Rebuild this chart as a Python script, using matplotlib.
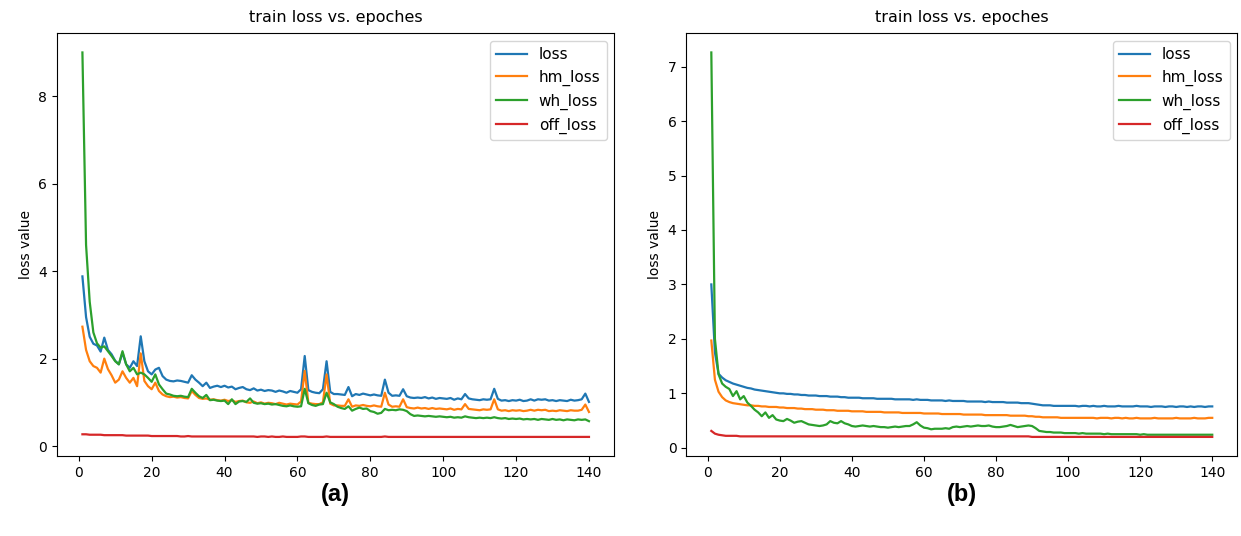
import numpy as np
import matplotlib
matplotlib.use("Agg")
import matplotlib.pyplot as plt

plt.rcParams['font.family'] = ['DejaVu Sans']

epochs = np.arange(1, 141)

# (a) first training run
loss_a = [3.88, 2.95, 2.50, 2.34, 2.30, 2.16, 2.48, 2.20, 2.10, 1.95,
          1.87, 2.13, 1.87, 1.79, 1.94, 1.83, 2.51, 1.94, 1.71, 1.64,
          1.75, 1.79, 1.60, 1.52, 1.49, 1.48, 1.50, 1.49, 1.47, 1.45,
          1.62, 1.52, 1.45, 1.37, 1.45, 1.33, 1.36, 1.38, 1.35, 1.38,
          1.34, 1.36, 1.30, 1.33, 1.35, 1.30, 1.28, 1.32, 1.27, 1.29,
          1.26, 1.28, 1.27, 1.24, 1.27, 1.25, 1.22, 1.26, 1.24, 1.22,
          1.30, 2.06, 1.28, 1.24, 1.22, 1.21, 1.30, 1.94, 1.24, 1.19,
          1.19, 1.18, 1.17, 1.35, 1.14, 1.19, 1.17, 1.20, 1.18, 1.16,
          1.18, 1.16, 1.15, 1.52, 1.22, 1.15, 1.16, 1.15, 1.30, 1.14,
          1.11, 1.10, 1.11, 1.10, 1.12, 1.09, 1.11, 1.08, 1.10, 1.09,
          1.08, 1.10, 1.06, 1.09, 1.07, 1.19, 1.09, 1.07, 1.06, 1.05,
          1.07, 1.06, 1.07, 1.31, 1.08, 1.04, 1.05, 1.03, 1.05, 1.04,
          1.06, 1.03, 1.04, 1.07, 1.04, 1.07, 1.06, 1.07, 1.04, 1.05,
          1.03, 1.05, 1.04, 1.03, 1.06, 1.04, 1.05, 1.07, 1.20, 1.01]
hm_a = [2.73, 2.20, 1.94, 1.83, 1.79, 1.68, 2.00, 1.76, 1.62, 1.45,
        1.52, 1.71, 1.56, 1.45, 1.56, 1.37, 2.12, 1.49, 1.37, 1.30,
        1.45, 1.26, 1.18, 1.14, 1.12, 1.13, 1.11, 1.12, 1.10, 1.09,
        1.26, 1.17, 1.10, 1.08, 1.09, 1.06, 1.07, 1.05, 1.04, 1.06,
        1.03, 1.05, 1.01, 1.03, 1.04, 1.00, 0.99, 1.02, 0.98, 1.00,
        0.97, 0.99, 0.98, 0.96, 0.99, 0.97, 0.95, 0.97, 0.96, 0.95,
        1.02, 1.72, 0.99, 0.97, 0.96, 0.96, 1.00, 1.64, 0.97, 0.93,
        0.93, 0.92, 0.92, 1.07, 0.90, 0.93, 0.92, 0.94, 0.92, 0.91,
        0.93, 0.91, 0.90, 1.22, 0.95, 0.90, 0.91, 0.90, 1.07, 0.89,
        0.87, 0.86, 0.88, 0.86, 0.87, 0.85, 0.87, 0.85, 0.86, 0.85,
        0.84, 0.86, 0.83, 0.85, 0.84, 0.96, 0.85, 0.84, 0.83, 0.82,
        0.84, 0.83, 0.84, 1.07, 0.84, 0.81, 0.82, 0.80, 0.82, 0.81,
        0.82, 0.80, 0.81, 0.83, 0.81, 0.83, 0.82, 0.83, 0.80, 0.81,
        0.80, 0.82, 0.81, 0.80, 0.82, 0.81, 0.81, 0.83, 0.95, 0.78]
wh_a = [9.00, 4.60, 3.30, 2.60, 2.35, 2.25, 2.28, 2.17, 2.06, 1.94,
        1.87, 2.17, 1.87, 1.71, 1.79, 1.64, 1.68, 1.64, 1.56, 1.47,
        1.64, 1.41, 1.30, 1.20, 1.18, 1.15, 1.14, 1.15, 1.13, 1.12,
        1.31, 1.22, 1.14, 1.10, 1.17, 1.05, 1.06, 1.04, 1.03, 1.04,
        0.96, 1.07, 0.96, 1.02, 1.03, 1.01, 1.09, 0.99, 0.97, 0.98,
        0.96, 0.97, 0.95, 0.96, 0.94, 0.92, 0.91, 0.93, 0.91, 0.90,
        0.91, 1.31, 0.98, 0.94, 0.92, 0.95, 0.96, 1.22, 1.00, 0.96,
        0.90, 0.87, 0.85, 0.91, 0.81, 0.85, 0.88, 0.85, 0.86, 0.80,
        0.78, 0.74, 0.76, 0.85, 0.82, 0.83, 0.82, 0.84, 0.83, 0.80,
        0.73, 0.69, 0.70, 0.69, 0.68, 0.69, 0.68, 0.67, 0.68, 0.67,
        0.66, 0.67, 0.65, 0.66, 0.65, 0.68, 0.66, 0.65, 0.64, 0.65,
        0.64, 0.65, 0.64, 0.66, 0.64, 0.63, 0.64, 0.62, 0.63, 0.62,
        0.63, 0.61, 0.62, 0.61, 0.62, 0.60, 0.62, 0.61, 0.60, 0.62,
        0.60, 0.61, 0.59, 0.61, 0.60, 0.59, 0.61, 0.60, 0.61, 0.57]
off_a = [0.27, 0.27, 0.26, 0.26, 0.26, 0.26, 0.25, 0.25, 0.25, 0.25,
         0.25, 0.25, 0.24, 0.24, 0.24, 0.24, 0.24, 0.24, 0.24, 0.23,
         0.23, 0.23, 0.23, 0.23, 0.23, 0.23, 0.23, 0.22, 0.22, 0.23,
         0.22, 0.22, 0.22, 0.22, 0.22, 0.22, 0.22, 0.22, 0.22, 0.22,
         0.22, 0.22, 0.22, 0.22, 0.22, 0.22, 0.22, 0.22, 0.21, 0.22,
         0.22, 0.21, 0.22, 0.21, 0.21, 0.22, 0.21, 0.21, 0.21, 0.21,
         0.22, 0.22, 0.21, 0.21, 0.21, 0.21, 0.21, 0.22, 0.21, 0.21,
         0.21, 0.21, 0.21, 0.21, 0.21, 0.21, 0.21, 0.21, 0.21, 0.21,
         0.21, 0.21, 0.21, 0.22, 0.21, 0.21, 0.21, 0.21, 0.21, 0.21,
         0.21, 0.21, 0.21, 0.21, 0.21, 0.21, 0.21, 0.21, 0.21, 0.21,
         0.21, 0.21, 0.21, 0.21, 0.21, 0.21, 0.21, 0.21, 0.21, 0.21,
         0.21, 0.21, 0.21, 0.21, 0.21, 0.21, 0.21, 0.21, 0.21, 0.21,
         0.21, 0.21, 0.21, 0.21, 0.21, 0.21, 0.21, 0.21, 0.21, 0.21,
         0.21, 0.21, 0.21, 0.21, 0.21, 0.21, 0.21, 0.21, 0.21, 0.21]

# (b) second training run
loss_b = [3.00, 1.75, 1.36, 1.29, 1.24, 1.21, 1.18, 1.16, 1.14, 1.12,
          1.10, 1.09, 1.07, 1.06, 1.05, 1.04, 1.03, 1.02, 1.01, 1.00,
          1.00, 0.99, 0.99, 0.98, 0.98, 0.97, 0.97, 0.96, 0.96, 0.96,
          0.95, 0.95, 0.95, 0.94, 0.94, 0.94, 0.93, 0.93, 0.92, 0.92,
          0.92, 0.92, 0.91, 0.91, 0.91, 0.91, 0.90, 0.90, 0.90, 0.90,
          0.90, 0.89, 0.89, 0.89, 0.89, 0.89, 0.88, 0.89, 0.88, 0.88,
          0.88, 0.87, 0.87, 0.87, 0.87, 0.86, 0.87, 0.86, 0.86, 0.86,
          0.86, 0.85, 0.85, 0.85, 0.85, 0.85, 0.84, 0.85, 0.84, 0.84,
          0.84, 0.84, 0.83, 0.83, 0.83, 0.83, 0.82, 0.82, 0.82, 0.81,
          0.80, 0.79, 0.78, 0.78, 0.78, 0.77, 0.77, 0.77, 0.77, 0.77,
          0.77, 0.77, 0.76, 0.77, 0.77, 0.76, 0.77, 0.76, 0.76, 0.77,
          0.76, 0.76, 0.76, 0.77, 0.76, 0.76, 0.76, 0.76, 0.77, 0.76,
          0.76, 0.76, 0.75, 0.76, 0.76, 0.76, 0.75, 0.76, 0.76, 0.75,
          0.76, 0.76, 0.75, 0.76, 0.75, 0.76, 0.76, 0.75, 0.76, 0.76]
hm_b = [1.97, 1.25, 1.03, 0.93, 0.87, 0.84, 0.82, 0.81, 0.80, 0.79,
        0.78, 0.78, 0.77, 0.77, 0.76, 0.76, 0.75, 0.75, 0.75, 0.74,
        0.74, 0.73, 0.73, 0.73, 0.72, 0.72, 0.71, 0.71, 0.71, 0.70,
        0.70, 0.70, 0.69, 0.69, 0.69, 0.68, 0.68, 0.68, 0.68, 0.67,
        0.67, 0.67, 0.67, 0.66, 0.66, 0.66, 0.66, 0.66, 0.65, 0.65,
        0.65, 0.65, 0.65, 0.64, 0.64, 0.64, 0.64, 0.64, 0.64, 0.63,
        0.63, 0.63, 0.63, 0.63, 0.62, 0.62, 0.62, 0.62, 0.62, 0.62,
        0.61, 0.61, 0.61, 0.61, 0.61, 0.61, 0.60, 0.60, 0.60, 0.60,
        0.60, 0.60, 0.60, 0.59, 0.59, 0.59, 0.59, 0.59, 0.58, 0.58,
        0.57, 0.57, 0.56, 0.56, 0.56, 0.56, 0.56, 0.55, 0.55, 0.55,
        0.55, 0.55, 0.55, 0.55, 0.55, 0.55, 0.55, 0.54, 0.55, 0.55,
        0.55, 0.54, 0.55, 0.55, 0.54, 0.55, 0.54, 0.54, 0.55, 0.54,
        0.54, 0.54, 0.54, 0.55, 0.54, 0.54, 0.54, 0.54, 0.54, 0.55,
        0.54, 0.54, 0.54, 0.54, 0.55, 0.54, 0.54, 0.54, 0.55, 0.55]
wh_b = [7.26, 2.00, 1.35, 1.18, 1.12, 1.08, 0.95, 1.04, 0.89, 0.95,
        0.83, 0.77, 0.70, 0.65, 0.58, 0.65, 0.55, 0.60, 0.52, 0.50,
        0.49, 0.53, 0.50, 0.46, 0.48, 0.49, 0.46, 0.43, 0.42, 0.41,
        0.40, 0.41, 0.43, 0.49, 0.46, 0.45, 0.49, 0.45, 0.43, 0.40,
        0.39, 0.40, 0.41, 0.40, 0.39, 0.40, 0.39, 0.38, 0.38, 0.37,
        0.38, 0.39, 0.38, 0.39, 0.40, 0.40, 0.43, 0.47, 0.41, 0.37,
        0.36, 0.34, 0.35, 0.35, 0.35, 0.36, 0.35, 0.38, 0.39, 0.38,
        0.39, 0.40, 0.39, 0.40, 0.41, 0.40, 0.40, 0.41, 0.39, 0.38,
        0.38, 0.39, 0.40, 0.42, 0.40, 0.38, 0.39, 0.40, 0.41, 0.40,
        0.36, 0.31, 0.30, 0.29, 0.29, 0.28, 0.28, 0.28, 0.27, 0.27,
        0.27, 0.27, 0.26, 0.27, 0.26, 0.26, 0.26, 0.26, 0.26, 0.25,
        0.26, 0.25, 0.25, 0.25, 0.25, 0.25, 0.25, 0.25, 0.25, 0.24,
        0.25, 0.24, 0.24, 0.24, 0.24, 0.24, 0.24, 0.24, 0.24, 0.24,
        0.24, 0.24, 0.24, 0.24, 0.24, 0.24, 0.24, 0.24, 0.24, 0.24]
off_b = [0.31, 0.26, 0.24, 0.23, 0.22, 0.22, 0.22, 0.22, 0.21, 0.21,
         0.21, 0.21, 0.21, 0.21, 0.21, 0.21, 0.21, 0.21, 0.21, 0.21,
         0.21, 0.21, 0.21, 0.21, 0.21, 0.21, 0.21, 0.21, 0.21, 0.21,
         0.21, 0.21, 0.21, 0.21, 0.21, 0.21, 0.21, 0.21, 0.21, 0.21,
         0.21, 0.21, 0.21, 0.21, 0.21, 0.21, 0.21, 0.21, 0.21, 0.21,
         0.21, 0.21, 0.21, 0.21, 0.21, 0.21, 0.21, 0.21, 0.21, 0.21,
         0.21, 0.21, 0.21, 0.21, 0.21, 0.21, 0.21, 0.21, 0.21, 0.21,
         0.21, 0.21, 0.21, 0.21, 0.21, 0.21, 0.21, 0.21, 0.21, 0.21,
         0.21, 0.21, 0.21, 0.21, 0.21, 0.21, 0.21, 0.21, 0.21, 0.20,
         0.20, 0.20, 0.20, 0.20, 0.20, 0.20, 0.20, 0.20, 0.20, 0.20,
         0.20, 0.20, 0.20, 0.20, 0.20, 0.20, 0.20, 0.20, 0.20, 0.20,
         0.20, 0.20, 0.20, 0.20, 0.20, 0.20, 0.20, 0.20, 0.20, 0.20,
         0.20, 0.20, 0.20, 0.20, 0.20, 0.20, 0.20, 0.20, 0.20, 0.20,
         0.20, 0.20, 0.20, 0.20, 0.20, 0.20, 0.20, 0.20, 0.20, 0.20]

labels = ['loss', 'hm_loss', 'wh_loss', 'off_loss']
panels = [('(a)', [loss_a, hm_a, wh_a, off_a]),
          ('(b)', [loss_b, hm_b, wh_b, off_b])]

fig = plt.figure(figsize=(12.41, 5.36), dpi=100)
ax_a = fig.add_axes([0.046, 0.149, 0.449, 0.789])
ax_b = fig.add_axes([0.553, 0.149, 0.444, 0.789])

for ax, (tag, series) in zip([ax_a, ax_b], panels):
    for vals, lab in zip(series, labels):
        ax.plot(epochs, vals, label=lab, linewidth=1.6)
    ax.set_title('train loss vs. epoches', fontsize=11.5, pad=8)
    ax.set_ylabel('loss value', fontsize=10)
    ax.set_xticks(range(0, 141, 20))
    ax.tick_params(labelsize=10)
    ax.legend(loc='upper right', fontsize=11)
    pos = ax.get_position()
    fig.text(pos.x0 + pos.width / 2, 0.078, tag, ha='center', va='center',
             fontsize=17, fontweight='bold', family='Liberation Sans')

fig.savefig('out.png', dpi=100)
